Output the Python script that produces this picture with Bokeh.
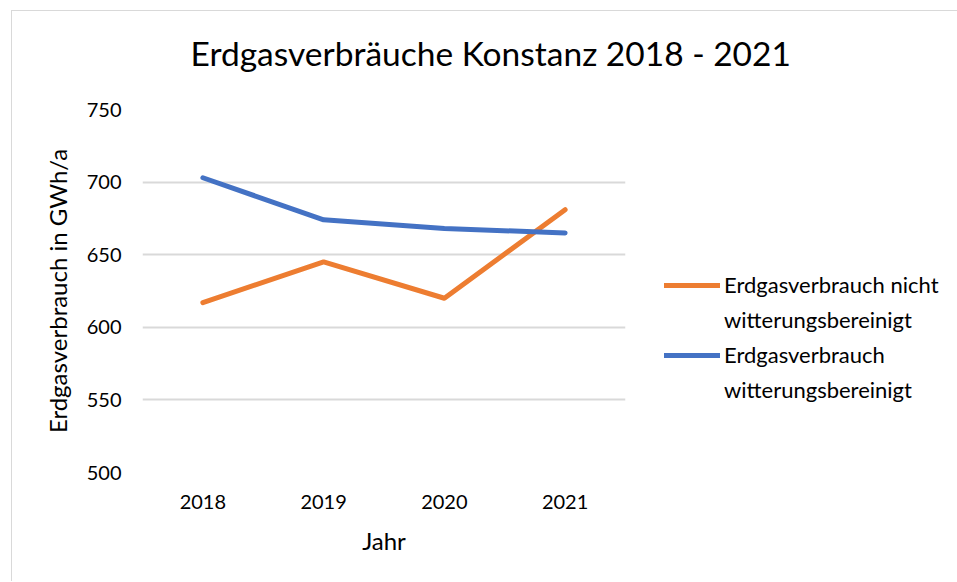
from bokeh.plotting import figure
from bokeh.models import FactorRange, Range1d, Legend, LegendItem, Title, SingleIntervalTicker
from bokeh.embed import file_html
from bokeh.resources import INLINE

years = ["2018", "2019", "2020", "2021"]
nicht_bereinigt = [617, 645, 620, 681]
bereinigt = [703, 674, 668, 665]
y_ticks_step = 50

FONT = "Lato"
OX, OY = 11, 10
W, H = 944, 570
FL, FT, FW, FH = 142 - OX - 1, 109 - OY - 1, 483, 363

p = figure(frame_width=FW, frame_height=FH, output_backend="svg", toolbar_location=None,
           x_range=FactorRange(*years, range_padding=0), y_range=Range1d(500, 750),
           min_border_left=FL, min_border_top=FT, min_border_right=W - FL - FW,
           min_border_bottom=H - FT - FH)
p.outline_line_color = None
p.styles = {"border-top": "1px solid #d9d9d9", "border-left": "1px solid #d9d9d9",
            "margin-left": f"{OX}px", "margin-top": f"{OY}px"}

r1 = p.line(years, nicht_bereinigt, line_color="#ED7D31", line_width=5, line_cap="round", line_join="round")
r2 = p.line(years, bereinigt, line_color="#4472C4", line_width=5, line_cap="round", line_join="round")

p.yaxis.ticker = SingleIntervalTicker(interval=y_ticks_step)
for ax in (p.xaxis[0], p.yaxis[0]):
    ax.axis_line_color = None
    ax.major_tick_line_color = None
    ax.minor_tick_line_color = None
    ax.major_label_text_font = FONT
    ax.major_label_text_font_size = "20px"
    ax.major_label_text_color = "#000000"
    ax.axis_label_text_font = FONT
    ax.axis_label_text_font_size = "24px"
    ax.axis_label_text_font_style = "normal"
    ax.axis_label_text_color = "#000000"
p.xaxis.axis_label = "Jahr"
p.yaxis.axis_label = "Erdgasverbrauch in GWh/a"
p.xaxis.major_label_standoff = 16
p.xaxis.axis_label_standoff = 14
p.yaxis.major_label_standoff = 15
p.yaxis.axis_label_standoff = 12

p.xgrid.grid_line_color = None
p.ygrid.grid_line_color = "#d9d9d9"
p.ygrid.grid_line_width = 2

spacer = Title(text=" ", text_font_size="1px", standoff=34)
p.add_layout(spacer, "above")
title = Title(text="Erdgasverbräuche Konstanz 2018 - 2021", align="left", offset=48,
              standoff=0, text_font=FONT, text_font_size="33.5px",
              text_font_style="normal", text_color="#000000")
p.add_layout(title, "above")

legend = Legend(items=[LegendItem(label="Erdgasverbrauch nicht", renderers=[r1]),
                       LegendItem(label="witterungsbereinigt", renderers=[]),
                       LegendItem(label="Erdgasverbrauch", renderers=[r2]),
                       LegendItem(label="witterungsbereinigt", renderers=[])],
                location=(39, 69), padding=0, margin=0, spacing=8,
                glyph_width=56, glyph_height=20, label_standoff=4,
                label_text_font=FONT, label_text_font_size="22px",
                label_text_color="#000000",
                border_line_color=None, background_fill_alpha=0)
p.add_layout(legend, "right")

open("out.html", "w").write(file_html(p, INLINE))
